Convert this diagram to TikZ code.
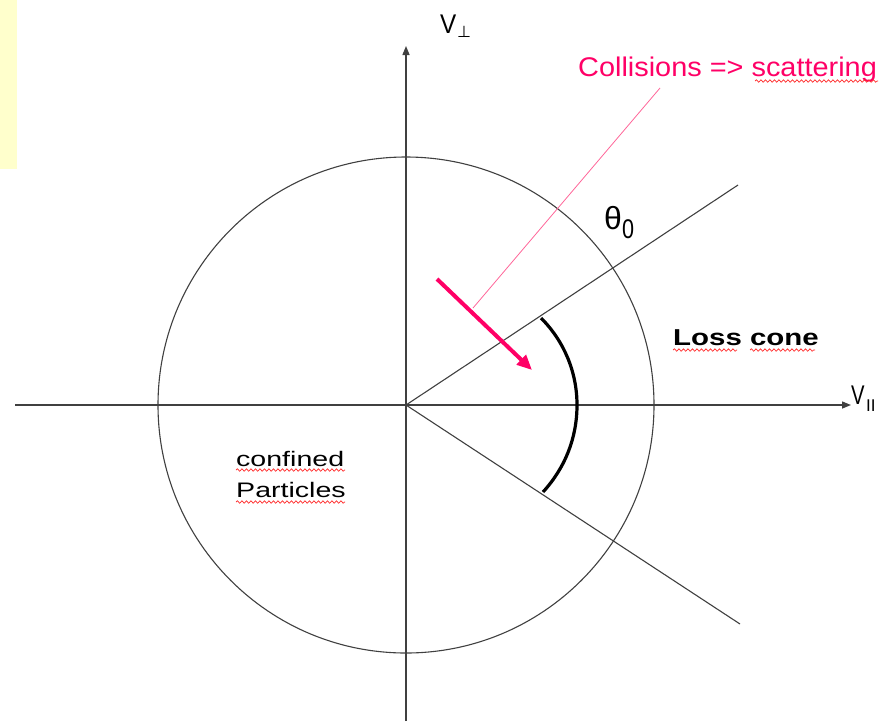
\documentclass[tikz,border=0pt]{standalone}
\usepackage{fontspec}
\setmainfont{Liberation Sans}
\newfontfamily\dejavu{DejaVu Sans}
\usetikzlibrary{arrows.meta,decorations.pathmorphing}
\definecolor{pinkred}{HTML}{FF0066}
\definecolor{pinklight}{HTML}{FF6699}
\definecolor{axisgray}{HTML}{404040}
\definecolor{noteyellow}{HTML}{FFFFCC}
\tikzset{
  axisline/.style={draw=axisgray, line width=1.4pt},
  thinline/.style={draw=axisgray, line width=1.1pt},
  axisarrow/.style={-{Triangle[length=9pt,width=7pt]}},
  lbl/.style={inner sep=0pt, anchor=base west},
  squiggle/.style={draw=red!85, line width=0.7pt, decorate,
    decoration={snake, segment length=4.5pt, amplitude=1.2pt}},
}
\newcommand{\fsz}[1]{\fontsize{#1pt}{#1pt}\selectfont}
\begin{document}
\begin{tikzpicture}[x=1pt,y=-1pt]
\useasboundingbox (0,0) rectangle (885,721);
\fill[noteyellow] (0,0) rectangle (17,169);

\coordinate (O) at (406,405);
\coordinate (xl) at (15,405);
\coordinate (xr) at (851,405);
\coordinate (yb) at (406,721);
\coordinate (yt) at (406,46);
\coordinate (up) at (738,185);
\coordinate (dn) at (740,624);

% circle
\draw[thinline] (O) circle[radius=248pt];
% axes
\draw[axisline, axisarrow] (xl) -- (xr);
\draw[axisline, axisarrow] (yb) -- (yt);
% loss cone lines
\draw[thinline] (O) -- (up);
\draw[thinline] (O) -- (dn);

% thick arc
\coordinate (a1) at (541,318);
\coordinate (a2) at (577,405);
\coordinate (a3) at (543,492);
\draw[black, line width=3.2pt] (a1) .. controls (564,341) and (577,372) .. (a2)
  .. controls (577,438) and (565,468) .. (a3);

% pink pointer line and arrow
\coordinate (p1) at (660,88);
\coordinate (p2) at (473,308);
\draw[pinklight, line width=0.8pt] (p1) -- (p2);
\coordinate (s1) at (437,279);
\coordinate (s2) at (532,370);
\draw[pinkred, line width=4pt, -{Triangle[length=15pt,width=13pt]}] (s1) -- (s2);

% labels
\node[lbl] (vperp) at (440,33) {\scalebox{0.9}[1]{\fsz{27}V}};
\node[lbl] (perp) at (457,37) {\dejavu\fsz{16}⊥};
\node[lbl] (vpar) at (851,404) {\scalebox{0.75}[1]{\fsz{27}V}};
\node[lbl] (par) at (866,411) {\fsz{17}II};
\node[lbl, text=pinkred] (coll) at (578,76) {\scalebox{1.07}[1]{\fsz{27}Collisions => scattering}};
\node[lbl] (theta) at (604,229) {\fsz{32}θ};
\node[lbl] (zero) at (622,238) {\scalebox{0.8}[1]{\fsz{27}0}};
\node[lbl] (loss) at (673,345) {\scalebox{1.28}[1]{\fsz{23}\bfseries Loss cone}};
\node[lbl] (conf) at (236,466) {\scalebox{1.36}[1]{\fsz{21}confined}};
\node[lbl] (part) at (236,497) {\scalebox{1.36}[1]{\fsz{21}Particles}};

% spell-check squiggles
\draw[squiggle] (755,81) -- (878,81);
\draw[squiggle] (673,350) -- (737,350);
\draw[squiggle] (750,350) -- (815,350);
\draw[squiggle] (236,470) -- (345,470);
\draw[squiggle] (236,502) -- (345,502);
\end{tikzpicture}
\end{document}
